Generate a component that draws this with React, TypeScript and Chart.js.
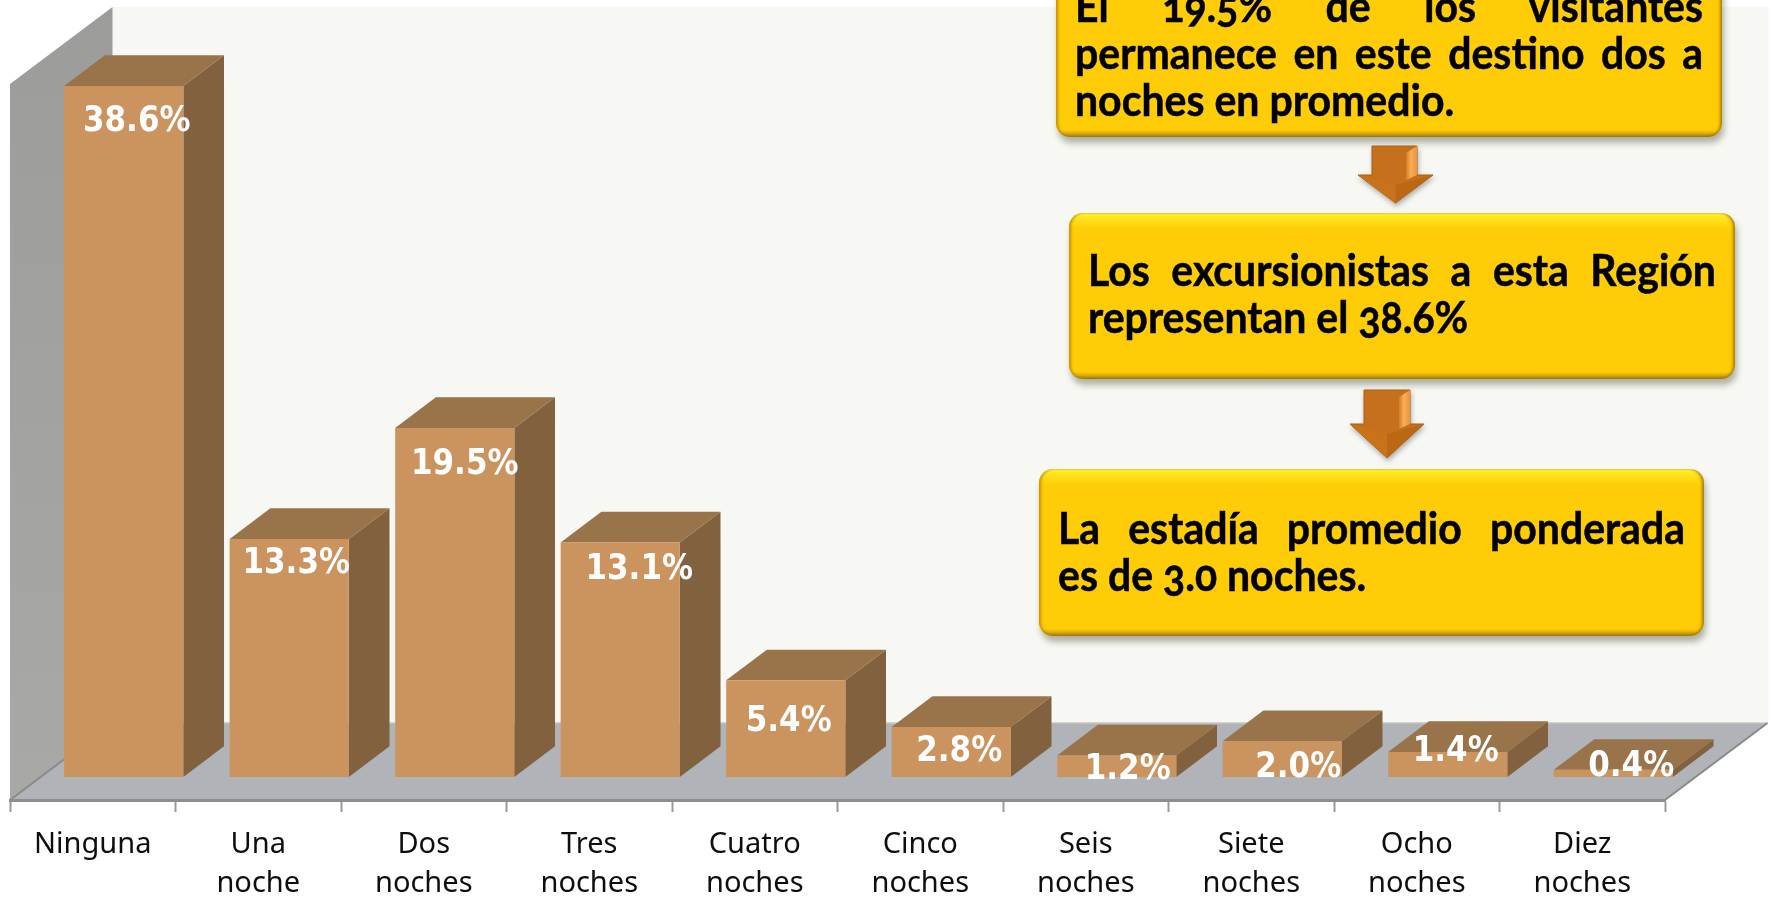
import React, { useEffect, useRef } from "react";
import { Chart, registerables } from "chart.js";

Chart.register(...registerables);

const categories: (string | string[])[] = [
  "Ninguna",
  ["Una", "noche"],
  ["Dos", "noches"],
  ["Tres", "noches"],
  ["Cuatro", "noches"],
  ["Cinco", "noches"],
  ["Seis", "noches"],
  ["Siete", "noches"],
  ["Ocho", "noches"],
  ["Diez", "noches"],
];
const shares = [38.6, 13.3, 19.5, 13.1, 5.4, 2.8, 1.2, 2.0, 1.4, 0.4];
const axisMax = 40;

const box1Lines = ["El 19.5% de los visitantes", "permanece en este destino dos a", "noches en promedio."];
const box2Lines = ["Los excursionistas a esta Región", "representan el 38.6%"];
const box3Lines = ["La estadía promedio ponderada", "es de 3.0 noches."];

// Hand-placed label offsets from each bar's front-top-centre, as in the original slide
const labelDx = [13, 7, 10, 19, 3, 8, 11, 16, 8, 18];
const labelDy = [36, 25, 37, 27, 42, 25, 14, 27, 0, -3];

const BAR_DX = 31;
const BAR_DY = -23;
const DEPTH_X = 40.7;
const DEPTH_Y = 30.7;
const WALL_DX = 102.5;
const WALL_DY = 77;

function poly(ctx: CanvasRenderingContext2D, pts: number[][], fill: string) {
  ctx.beginPath();
  pts.forEach((p, i) => (i ? ctx.lineTo(p[0], p[1]) : ctx.moveTo(p[0], p[1])));
  ctx.closePath();
  ctx.fillStyle = fill;
  ctx.fill();
}

const roomPlugin = {
  id: "room",
  beforeDraw(chart: any) {
    const { ctx } = chart;
    const x = chart.scales.x;
    const y = chart.scales.y;
    const l = x.left;
    const r = x.right;
    const t = y.top;
    const b = y.bottom;
    ctx.save();
    poly(ctx, [[l + WALL_DX, t - WALL_DY], [r + WALL_DX + 1, t - WALL_DY], [r + WALL_DX + 1, b - WALL_DY], [l + WALL_DX, b - WALL_DY]], "#F7F8F3");
    const g = ctx.createLinearGradient(0, t - WALL_DY, 0, b);
    g.addColorStop(0, "#9C9C9A");
    g.addColorStop(1, "#A8A8A6");
    poly(ctx, [[l, t], [l + WALL_DX, t - WALL_DY], [l + WALL_DX, b - WALL_DY], [l, b]], g as any);
    poly(ctx, [[l, b], [l + WALL_DX, b - WALL_DY], [r + WALL_DX, b - WALL_DY], [r, b]], "#B0B3B7");
    ctx.strokeStyle = "#C6C7C0";
    ctx.lineWidth = 1.5;
    ctx.beginPath();
    ctx.moveTo(l + WALL_DX, b - WALL_DY);
    ctx.lineTo(r + WALL_DX, b - WALL_DY);
    ctx.stroke();
    ctx.strokeStyle = "#8A8A8A";
    ctx.lineWidth = 2;
    ctx.beginPath();
    ctx.moveTo(r, b);
    ctx.lineTo(r + WALL_DX, b - WALL_DY);
    ctx.moveTo(l, b);
    ctx.lineTo(l + WALL_DX, b - WALL_DY);
    ctx.stroke();
    ctx.restore();
  },
};

const bar3dPlugin = {
  id: "bar3d",
  beforeDatasetDraw(chart: any, args: any) {
    const { ctx } = chart;
    ctx.save();
    ctx.translate(BAR_DX, BAR_DY);
    const meta = chart.getDatasetMeta(args.index);
    meta.data.forEach((el: any) => {
      const left = el.x - el.width / 2;
      const right = el.x + el.width / 2;
      const top = el.y;
      const base = el.base;
      poly(ctx, [[right, top], [right + DEPTH_X, top - DEPTH_Y], [right + DEPTH_X, base - DEPTH_Y], [right, base]], "#81613E");
      poly(ctx, [[left, top], [left + DEPTH_X, top - DEPTH_Y], [right + DEPTH_X, top - DEPTH_Y], [right, top]], "#99734A");
    });
  },
  afterDatasetDraw(chart: any, args: any) {
    const { ctx } = chart;
    const meta = chart.getDatasetMeta(args.index);
    ctx.font = "bold 31px 'DejaVu Sans'";
    ctx.fillStyle = "#FFFFFF";
    ctx.textAlign = "center";
    ctx.textBaseline = "middle";
    meta.data.forEach((el: any, i: number) => {
      ctx.save();
      ctx.translate(el.x + labelDx[i], el.y + labelDy[i]);
      ctx.scale(1, 1.12);
      ctx.fillText(shares[i].toFixed(1) + "%", 0, 0);
      ctx.restore();
    });
    ctx.restore();
  },
};

function TextBox(props: { left: number; top: number; right: number; bottom: number; lines: string[]; firstBaseline: number; pad: number }) {
  const { left, top, right, bottom, lines, firstBaseline, pad } = props;
  const lineGap = 47;
  const stretch = 1.08;
  return (
    <div
      style={{
        position: "absolute",
        left,
        top,
        width: right - left,
        height: bottom - top,
        borderRadius: 14,
        background:
          "linear-gradient(180deg,#FFF233 0px,#FFE21C 6px,#FFCC08 16px,#FFCC08 calc(100% - 7px),#E3AE08 calc(100% - 4px),#9A7A12 100%)",
        boxShadow:
          "inset 3px 0 3px -1px rgba(170,120,0,.7), inset -3px 0 3px -1px rgba(150,105,0,.8), 2px 6px 6px rgba(70,70,50,.4)",
      }}
    >
      {lines.map((line, i) => (
        <div
          key={i}
          style={{
            position: "absolute",
            left: pad,
            right: pad,
            top: firstBaseline - top - 37 + i * lineGap,
            height: 46,
            lineHeight: "46px",
            fontFamily: "Lato, 'Open Sans', sans-serif",
            fontWeight: 700,
            fontSize: 41,
            fontVariantNumeric: "oldstyle-nums",
            WebkitTextStroke: "0.5px #000",
            color: "#000",
            whiteSpace: "nowrap",
            textAlign: i < lines.length - 1 ? "justify" : "left",
            textAlignLast: i < lines.length - 1 ? "justify" : "left",
            transform: `scaleY(${stretch})`,
            transformOrigin: "0 50%",
          }}
        >
          {line}
        </div>
      ))}
    </div>
  );
}

function Arrow(props: { id: string; sl: number; sr: number; top: number; neck: number; hl: number; hr: number; tip: number }) {
  const { id, sl, sr, top, neck, hl, hr, tip } = props;
  const cx = (hl + hr) / 2;
  const bev = 11;
  return (
    <svg width={1772} height={900} style={{ position: "absolute", left: 0, top: 0, pointerEvents: "none", overflow: "visible" }}>
      <defs>
        <linearGradient id={id} x1="0" x2="1" y1="0" y2="0">
          <stop offset="0" stopColor="#D87C22" />
          <stop offset="0.45" stopColor="#F9AE55" />
          <stop offset="1" stopColor="#E8943A" />
        </linearGradient>
        <filter id={id + "s"} x="-30%" y="-30%" width="160%" height="160%">
          <feDropShadow dx="1" dy="3" stdDeviation="2.5" floodColor="#555" floodOpacity="0.45" />
        </filter>
      </defs>
      <polygon
        points={`${sl},${top} ${sr},${top} ${sr},${neck} ${hr},${neck} ${cx},${tip} ${hl},${neck} ${sl},${neck}`}
        fill="#C4701A"
        stroke="#A85F14"
        strokeWidth="1"
        filter={`url(#${id}s)`}
      />
      <polygon points={`${sr - bev},${top + 7} ${sr},${top} ${sr},${neck} ${sr - bev},${neck + 5}`} fill={`url(#${id})`} />
      <polygon points={`${cx},${neck + 10} ${hr},${neck} ${cx},${tip}`} fill="#BC6812" />
      <polygon points={`${cx},${neck + 10} ${hl},${neck} ${cx},${tip}`} fill="#C8721A" />
    </svg>
  );
}

export default function App() {
  const ref = useRef<HTMLCanvasElement | null>(null);

  useEffect(() => {
    const chart = new Chart(ref.current as HTMLCanvasElement, {
      type: "bar",
      data: {
        labels: categories as any,
        datasets: [
          {
            data: shares,
            backgroundColor: "#CB945F",
            borderWidth: 0,
            categoryPercentage: 1,
            barPercentage: 0.72,
            clip: false as any,
          },
        ],
      },
      options: {
        responsive: false,
        animation: false,
        layout: { padding: { left: 10, top: 84, right: 107, bottom: 0 } },
        plugins: { legend: { display: false }, tooltip: { enabled: false }, title: { display: false } },
        scales: {
          x: {
            afterFit(scale: any) {
              scale.height = 100;
            },
            border: { display: true, color: "#8D8D8D", width: 3 },
            grid: { drawOnChartArea: false, drawTicks: true, tickLength: 12, tickColor: "#9A9A9A", tickWidth: 2 },
            ticks: {
              autoSkip: false,
              maxRotation: 0,
              minRotation: 0,
              padding: 13,
              color: "#0E0E0E",
              font: { family: "'Noto Sans'", size: 29, lineHeight: 39 / 29 },
            },
          },
          y: { display: false, min: 0, max: axisMax, grid: { display: false } },
        },
      } as any,
      plugins: [roomPlugin, bar3dPlugin],
    });
    return () => chart.destroy();
  }, []);

  return (
    <div style={{ position: "absolute", left: 0, top: 0, width: 1772, height: 900, overflow: "hidden", background: "#fff" }}>
      <canvas ref={ref} width={1772} height={900} style={{ display: "block", position: "absolute", left: 0, top: 0 }} />
      <TextBox left={1056} top={-100} right={1722} bottom={137} lines={box1Lines} firstBaseline={20} pad={19} />
      <Arrow id="a1" sl={1372} sr={1417} top={146} neck={175} hl={1358} hr={1433} tip={203} />
      <TextBox left={1069} top={213} right={1735} bottom={379} lines={box2Lines} firstBaseline={284} pad={19} />
      <Arrow id="a2" sl={1364} sr={1410} top={390} neck={424} hl={1350} hr={1424} tip={458} />
      <TextBox left={1039} top={469} right={1704} bottom={636} lines={box3Lines} firstBaseline={542} pad={19} />
    </div>
  );
}
